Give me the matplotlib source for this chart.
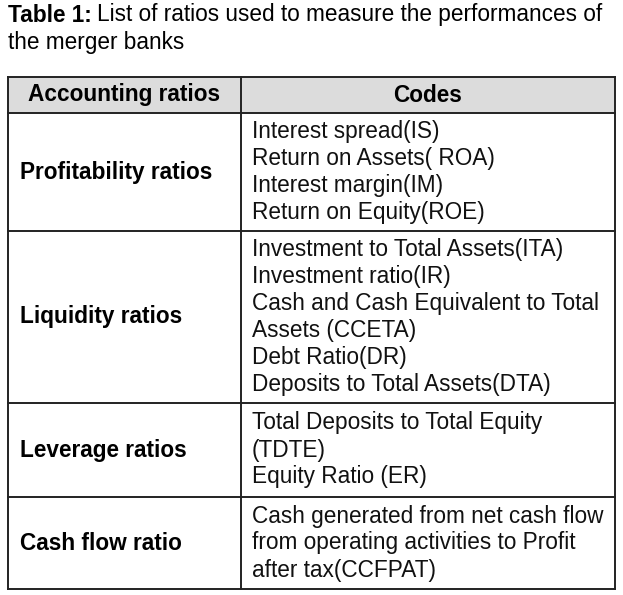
import matplotlib.pyplot as plt
from matplotlib.patches import Rectangle

plt.rcParams['font.family'] = ['Liberation Sans', 'DejaVu Sans']

# table content
headers = ["Accounting ratios", "Codes"]
categories = ["Profitability ratios", "Liquidity ratios", "Leverage ratios", "Cash flow ratio"]
codes = [
    ["Interest spread(IS)", "Return on Assets( ROA)", "Interest margin(IM)",
     "Return on Equity(ROE)"],
    ["Investment to Total Assets(ITA)", "Investment ratio(IR)",
     "Cash and Cash Equivalent to Total", "Assets (CCETA)", "Debt Ratio(DR)",
     "Deposits to Total Assets(DTA)"],
    ["Total Deposits to Total Equity", "(TDTE)", "Equity Ratio (ER)"],
    ["Cash generated from net cash flow", "from operating activities to Profit",
     "after tax(CCFPAT)"],
]

W, H = 623, 595
fig = plt.figure(figsize=(W / 100, H / 100), dpi=100)
ax = fig.add_axes([0, 0, 1, 1])
ax.set_xlim(0, W)
ax.set_ylim(H, 0)
ax.axis('off')

fs = 16.3

# title: bold label followed by normal text
t = ax.text(8, 15, "Table 1:", fontsize=fs, fontweight='bold', va='center', ha='left')
fig.canvas.draw()
bb = t.get_window_extent()
xa = ax.transData.inverted().transform((bb.x1, 0))[0] + 5
ax.text(xa, 15, "List of ratios used to measure the performances of",
        fontsize=fs, va='center', ha='left')
ax.text(8, 42, "the merger banks", fontsize=fs, va='center', ha='left')

# grid geometry (pixels)
left, mid, right = 8, 241, 615
top, head_bot = 77, 113
row_edges = [113, 231, 403, 497, 589]
lw = 1.4
line_gap = 27

ax.add_patch(Rectangle((left, top), right - left, head_bot - top,
                       facecolor='#dcdcdc', edgecolor='none'))
for y in [top] + row_edges:
    ax.plot([left, right], [y, y], color='#222222', lw=lw, solid_capstyle='projecting')
for x in [left, mid, right]:
    ax.plot([x, x], [top, row_edges[-1]], color='#222222', lw=lw, solid_capstyle='projecting')

hy = (top + head_bot) / 2
ax.text((left + mid) / 2, hy, headers[0], fontsize=fs, fontweight='bold', ha='center', va='center')
ax.text((mid + right) / 2, hy, headers[1], fontsize=fs, fontweight='bold', ha='center', va='center')

for i, (cat, lines) in enumerate(zip(categories, codes)):
    yc = (row_edges[i] + row_edges[i + 1]) / 2
    ax.text(20, yc, cat, fontsize=fs, fontweight='bold', ha='left', va='center')
    n = len(lines)
    for j, s in enumerate(lines):
        y = yc + (j - (n - 1) / 2) * line_gap
        ax.text(252, y, s, fontsize=fs, ha='left', va='center', color='#111111')

fig.savefig('out.png', dpi=100, facecolor='white')
